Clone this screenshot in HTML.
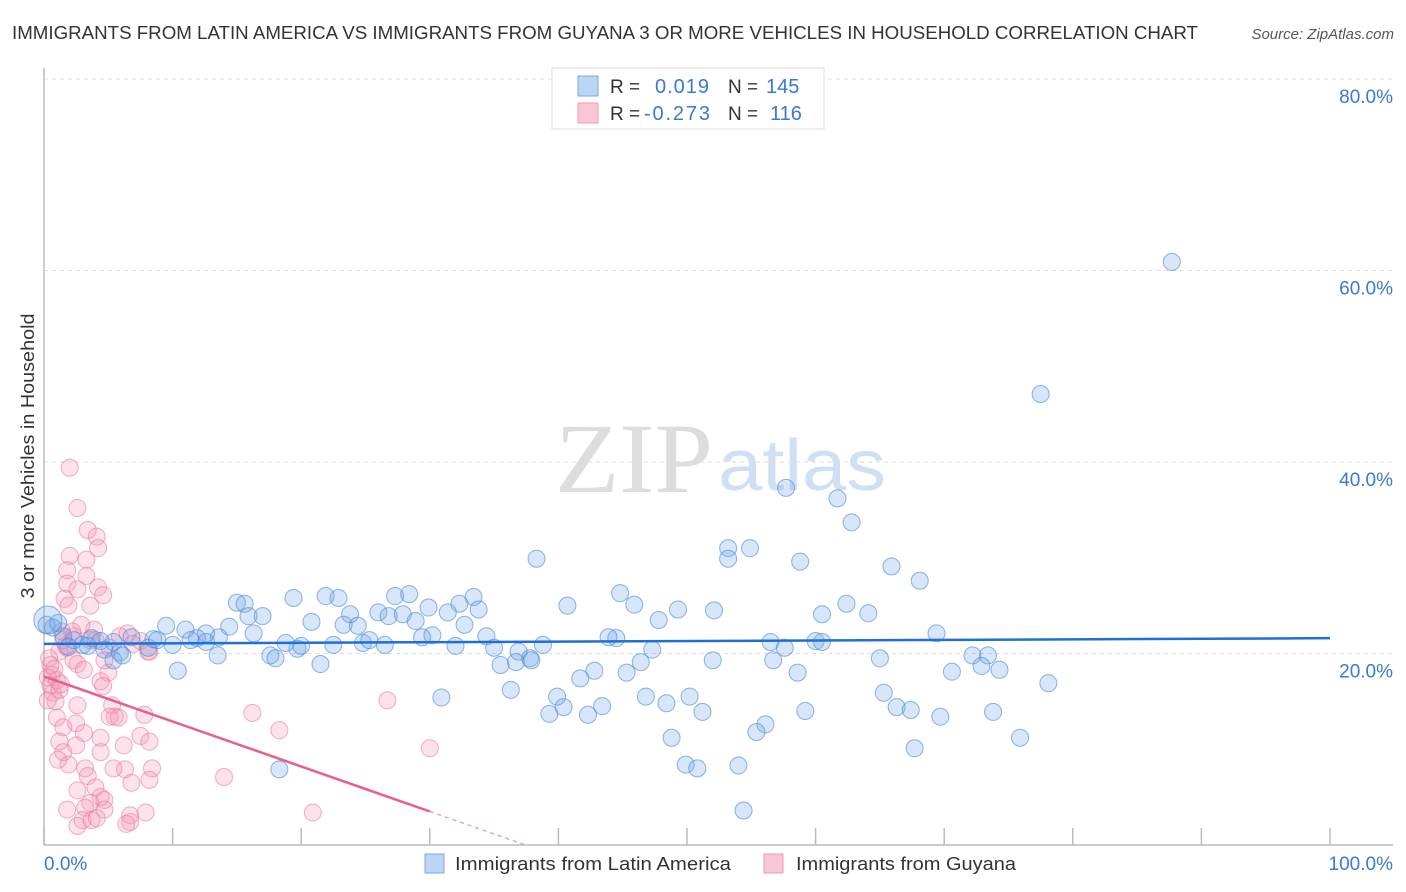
<!DOCTYPE html>
<html><head><meta charset="utf-8">
<style>
body{margin:0;background:#fff;font-family:"Liberation Sans",sans-serif;}
#wrap{position:relative;width:1406px;height:892px;overflow:hidden;}
</style></head>
<body>
<div id="wrap">
<svg id="chart" width="1406" height="892">
  <text x="12" y="39" font-size="18.5" fill="#333" textLength="1186" lengthAdjust="spacingAndGlyphs">IMMIGRANTS FROM LATIN AMERICA VS IMMIGRANTS FROM GUYANA 3 OR MORE VEHICLES IN HOUSEHOLD CORRELATION CHART</text>
  <text x="1394" y="39" font-size="15" fill="#555" font-style="italic" text-anchor="end">Source: ZipAtlas.com</text>
  <g>
    <text x="555" y="492" font-family="Liberation Serif, serif" font-size="100" fill="#ddd" textLength="158" lengthAdjust="spacingAndGlyphs">ZIP</text>
    <text x="718" y="490" font-size="72" fill="#cfe0f4" textLength="168" lengthAdjust="spacingAndGlyphs">atlas</text>
  </g>
  <g id="grid"></g>
  <g id="axes"></g>
  <g id="pts"></g>
  <g id="lines"></g>
  <text transform="translate(34,456) rotate(-90)" font-size="18" fill="#333" text-anchor="middle" textLength="285" lengthAdjust="spacingAndGlyphs">3 or more Vehicles in Household</text>
  <g>
    <rect x="552" y="68" width="272" height="61" fill="#fff" stroke="#ddd"/>
    <rect x="578" y="76" width="20" height="20" fill="#bcd5f4" stroke="#7aa9e4"/>
    <rect x="578" y="103" width="20" height="20" fill="#f9c6d5" stroke="#f09ab4"/>
    <text x="610" y="93" font-size="19" fill="#333">R = </text>
    <text x="655" y="93" font-size="20" fill="#3a78d4" textLength="54">0.019</text>
    <text x="728" y="93" font-size="19" fill="#333">N = </text>
    <text x="766" y="93" font-size="20" fill="#3a78d4">145</text>
    <text x="610" y="120" font-size="19" fill="#333">R = </text>
    <text x="644" y="120" font-size="20" fill="#3a78d4" textLength="66">-0.273</text>
    <text x="728" y="120" font-size="19" fill="#333">N = </text>
    <text x="770" y="120" font-size="20" fill="#3a78d4">116</text>
  </g>
  <g>
    <rect x="425" y="854" width="19" height="19" fill="#bcd5f4" stroke="#7aa9e4"/>
    <text x="455" y="870" font-size="18" fill="#333" textLength="276" lengthAdjust="spacingAndGlyphs">Immigrants from Latin America</text>
    <rect x="764" y="854" width="19" height="19" fill="#f9c6d5" stroke="#f09ab4"/>
    <text x="796" y="870" font-size="18" fill="#333" textLength="220" lengthAdjust="spacingAndGlyphs">Immigrants from Guyana</text>
  </g>
</svg>
</div>
<script>
const yTicks=[20,40,60,80];
const yTickLabels=["20.0%","40.0%","60.0%","80.0%"];
const xTicks=[0,10,20,30,40,50,60,70,80,90,100];
const blueX=[87.7,77.5,57.7,61.7,62.8,38.3,53.2,53.2,54.9,58.8,65.9,68.1,44.8,45.9,40.7,49.3,52.1,62.4,60.5,64.1,47.8,69.4,56.5,60.0,60.5,57.6,47.3,44.5,43.9,52.0,56.7,65.0,72.2,73.4,72.9,74.3,70.6,78.1,58.6,46.4,45.3,42.8,41.7,65.3,66.3,67.4,69.7,73.8,75.9,67.7,59.2,56.1,55.4,50.2,51.2,48.4,46.8,43.4,42.3,39.9,40.4,39.3,48.8,49.9,50.8,54.0,54.4,30.9,36.3,18.3,10.4,
15.0,15.6,15.9,17.0,19.4,21.9,22.9,27.3,28.4,33.4,32.3,33.8,29.9,23.8,26.0,26.8,27.9,20.8,23.3,24.4,28.9,31.4,32.7,14.4,16.3,13.6,11.9,12.6,9.5,11.0,11.4,12.6,8.5,6.8,5.4,4.4,3.7,3.0,2.3,1.5,0.7,0.2,1.1,1.9,3.4,4.7,5.9,5.4,6.1,8.1,8.8,10.0,13.5,17.6,18.0,19.7,20.0,18.8,22.5,24.8,25.3,26.5,29.4,30.2,32.0,34.4,35.0,36.9,37.8,35.5,36.7,38.8,37.9,21.5,0.3];
const blueY=[60.9,47.1,37.3,36.2,33.7,29.9,31.0,29.9,31.0,29.6,29.1,27.6,26.3,25.1,25.0,24.6,24.5,25.2,24.1,24.2,23.5,22.1,21.2,21.3,21.2,20.6,20.4,21.6,21.7,19.3,19.3,19.5,19.8,19.8,18.7,18.3,18.1,16.9,18.0,19.1,18.0,18.2,17.4,15.9,14.4,14.1,13.4,13.9,11.2,10.1,14.0,12.6,11.8,15.5,13.9,14.8,15.5,14.5,13.6,15.5,14.4,13.7,11.2,8.4,8.0,8.3,3.6,15.4,16.2,7.9,18.2,
25.3,25.2,23.9,23.9,25.8,26.0,25.8,26.0,26.2,25.9,25.2,24.6,24.8,24.1,24.3,23.9,24.1,23.3,23.0,22.9,23.4,24.3,23.0,22.8,22.1,21.7,21.6,22.1,22.9,22.5,21.4,21.2,21.5,21.7,21.2,21.3,21.6,20.9,21.4,21.8,22.7,23.0,23.2,20.7,20.8,20.4,20.1,19.3,19.8,20.6,21.4,20.9,19.8,19.8,19.5,20.5,20.8,21.1,20.9,21.1,21.4,20.9,21.7,21.9,20.8,21.8,20.6,20.2,19.5,18.8,19.1,20.9,19.3,18.9,23.5];
const pinkX=[2.0,2.6,3.4,4.1,4.2,2.0,3.3,1.8,3.3,1.8,2.6,4.2,4.6,1.6,1.9,3.6,2.9,3.9,1.4,2.3,3.6,5.9,6.5,7.5,8.1,1.2,1.8,2.3,2.6,3.1,4.4,5.0,4.6,0.5,0.6,0.5,0.7,0.3,1.0,1.2,0.9,1.0,1.5,1.2,1.5,1.9,1.1,2.6,2.5,3.1,2.5,4.4,4.4,3.2,3.4,2.6,5.3,5.5,5.1,5.8,6.2,7.5,8.2,7.8,8.4,8.2,6.8,6.3,5.4,4.0,4.4,4.7,3.6,3.2,4.7,1.8,3.0,2.6,3.7,4.1,6.7,7.9,6.7,6.4,16.2,18.3,14.0,20.9,26.7,30.0,1.5,2.2,1.7,4.0,5.1,4.7,6.9,8.2,0.4,0.8,0.3,1.3];
const pinkY=[39.4,35.2,32.9,32.2,31.0,30.2,29.8,28.7,28.1,27.3,26.7,26.9,26.1,25.7,25.0,25.0,23.0,22.5,22.3,21.8,21.4,21.8,22.1,21.3,20.2,20.2,20.6,19.3,18.9,18.3,17.1,18.0,16.6,18.8,17.8,16.7,15.9,15.1,17.2,16.2,15.0,13.3,12.3,10.8,9.7,8.4,8.9,14.6,12.7,11.7,10.4,11.2,9.7,8.0,7.2,5.7,14.6,13.4,13.4,13.3,10.4,11.4,10.8,13.6,8.0,6.8,6.5,7.9,8.0,6.0,5.0,4.7,4.4,3.9,3.7,3.7,2.6,2.0,2.6,2.8,3.1,3.4,2.4,2.2,13.8,12.0,7.1,3.4,15.1,10.1,21.4,22.3,20.8,21.4,20.6,19.3,21.0,20.2,19.5,18.4,17.5,16.8];
const blueFit=[21.0,21.6];
const pinkFit=[17.6,3.5];
const pinkFitEnd=30;

const X0=44,X1=1330,Y0=845,Y1=79;
const sx=v=>X0+(X1-X0)*v/100;
const sy=v=>Y0-(Y0-Y1)*v/80;
const NS="http://www.w3.org/2000/svg";
function mk(tag,attrs,parent){const e=document.createElementNS(NS,tag);for(const k in attrs)e.setAttribute(k,attrs[k]);parent.appendChild(e);return e;}
const grid=document.getElementById('grid'),axes=document.getElementById('axes'),pts=document.getElementById('pts'),lines=document.getElementById('lines');
yTicks.forEach((t,i)=>{
  const l=mk('line',{x1:X0,x2:1393,y1:sy(t),y2:sy(t),stroke:'#ddd','stroke-dasharray':'4,4'},grid);
  
  
  const tx=mk('text',{x:1393,y:sy(t)+24,'font-size':19,fill:'#3a78d4','text-anchor':'end'},axes);
  tx.textContent=yTickLabels[i];
  
  
});
const ax=mk('line',{x1:X0,x2:1393,y1:Y0,y2:Y0,stroke:'#bbb','stroke-width':1.5},axes);


const ay=mk('line',{x1:X0,x2:X0,y1:68,y2:Y0,stroke:'#bbb','stroke-width':1.5},axes);


xTicks.forEach(t=>{
  const l=mk('line',{x1:sx(t),x2:sx(t),y1:Y0,y2:Y0-17,stroke:'#bbb','stroke-width':1.5},axes);
  
  
});
const xl0=mk('text',{x:44,y:870,'font-size':19,fill:'#3a78d4'},axes);xl0.textContent='0.0%';


const xl1=mk('text',{x:1393,y:870,'font-size':19,fill:'#3a78d4','text-anchor':'end'},axes);xl1.textContent='100.0%';



pinkX.forEach((x,i)=>{
  const c=mk('circle',{cx:sx(x),cy:sy(pinkY[i]),r:8.5,fill:'rgba(244,150,180,0.28)',stroke:'rgba(236,120,155,0.6)','stroke-width':1},pts);
  
  
});
blueX.forEach((x,i)=>{
  const c=mk('circle',{cx:sx(x),cy:sy(blueY[i]),r:(i===blueX.length-1?14:8.5),fill:'rgba(110,165,230,0.28)',stroke:'rgba(80,140,220,0.65)','stroke-width':1},pts);
  
  
});
const bl=mk('line',{x1:sx(0),y1:sy(blueFit[0]),x2:sx(100),y2:sy(blueFit[1]),stroke:'#1f6fd6','stroke-width':2.5},lines);


const pAt=x=>pinkFit[0]+(pinkFit[1]-pinkFit[0])*x/pinkFitEnd;
const pl=mk('line',{x1:sx(0),y1:sy(pAt(0)),x2:sx(pinkFitEnd),y2:sy(pAt(pinkFitEnd)),stroke:'#e8608a','stroke-width':2.5},lines);


const xe=pinkFit[0]/(pinkFit[0]-pinkFit[1])*pinkFitEnd;
const pd=mk('line',{x1:sx(pinkFitEnd),y1:sy(pAt(pinkFitEnd)),x2:sx(xe),y2:sy(0),stroke:'#f0a0b8','stroke-width':1.5,'stroke-dasharray':'4,4'},lines);


</script>
</body></html>
